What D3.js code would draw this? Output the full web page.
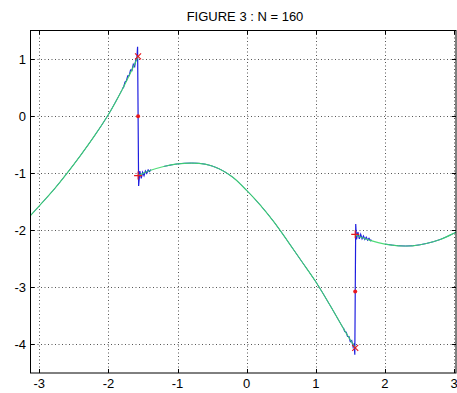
<!DOCTYPE html>
<html lang="en">
<head>
<meta charset="UTF-8">
<title>Figure 3</title>
<script src="https://d3js.org/d3.v7.min.js"></script>
<style>
  body { margin: 0; background: #fff; }
  svg { display: block; }
  text { font-family: "Liberation Sans", Arial, sans-serif; font-size: 13px; fill: #000; }
</style>
</head>
<body>
<svg id="chart" width="457" height="393"></svg>
<script>
// tick labels
const xTicks = [-3, -2, -1, 0, 1, 2, 3];
const yTicks = [-4, -3, -2, -1, 0, 1];

// exact function (green), three pieces split at -pi/2 and pi/2
const leftX  = [-3.1416, -3.0, -2.8, -2.6, -2.4, -2.2, -2.0, -1.8, -1.6, -1.5708];
const leftY  = [-1.76, -1.57, -1.30, -1.0, -0.68, -0.34, 0.03, 0.47, 0.97, 1.05];
const midX   = [-1.5708, -1.4, -1.2, -1.0, -0.8, -0.6, -0.4, -0.2, 0, 0.2, 0.4, 0.6, 0.8, 1.0, 1.2, 1.4, 1.5708];
const midY   = [-1.04, -0.95, -0.88, -0.835, -0.82, -0.84, -0.92, -1.07, -1.3, -1.56, -1.86, -2.2, -2.55, -2.9, -3.3, -3.72, -4.06];
const rightX = [1.5708, 1.8, 2.0, 2.2, 2.4, 2.6, 2.8, 3.0, 3.1416];
const rightY = [-2.08, -2.18, -2.24, -2.27, -2.27, -2.23, -2.16, -2.05, -1.96];

// partial sum (blue) around the jumps, ringing
const ringLX = [-1.80, -1.78, -1.76, -1.74, -1.72, -1.70, -1.68, -1.66, -1.64, -1.62, -1.60, -1.59, -1.578,
                -1.563, -1.545, -1.525, -1.505, -1.485, -1.465, -1.445, -1.425, -1.405, -1.385];
const ringLY = [0.48, 0.51, 0.60, 0.62, 0.71, 0.71, 0.81, 0.80, 0.91, 0.87, 1.02, 0.98, 1.22,
                -1.22, -0.96, -1.09, -0.98, -1.04, -0.96, -1.0, -0.94, -0.97, -0.935];
const ringRX = [1.40, 1.42, 1.44, 1.46, 1.48, 1.50, 1.52, 1.54, 1.555, 1.565,
                1.578, 1.59, 1.61, 1.63, 1.65, 1.67, 1.69, 1.71, 1.73, 1.75, 1.77, 1.79, 1.81];
const ringRY = [-3.71, -3.775, -3.785, -3.86, -3.86, -3.95, -3.93, -4.04, -3.98, -4.18,
                -1.89, -2.16, -2.03, -2.15, -2.07, -2.15, -2.10, -2.16, -2.12, -2.17, -2.14, -2.18, -2.17];

// red markers at the jumps: left limit (x), right limit (+), midpoint (dot)
const jumpX     = [-1.5708, 1.5708];
const leftLim   = [1.05, -4.06];
const rightLim  = [-1.04, -2.07];
const midVal    = [0.0, -3.07];

const svg = d3.select("#chart");
const box = { left: 30.5, right: 456, top: 30.5, bottom: 373 };

const x = d3.scaleLinear().domain([-3, 3]).range([39.3, 454]);
const y = d3.scaleLinear().domain([-4.5, 1.5]).range([373, 30.7]);

svg.append("defs").append("clipPath").attr("id", "clip")
  .append("rect")
  .attr("x", box.left).attr("y", box.top)
  .attr("width", box.right - box.left).attr("height", box.bottom - box.top);

// grid
const grid = svg.append("g")
  .attr("stroke", "#555").attr("stroke-width", 1).attr("stroke-dasharray", "1,2.5");
grid.selectAll("line.gx").data(xTicks).enter().append("line")
  .attr("x1", d => Math.round(x(d)) + 0.5).attr("x2", d => Math.round(x(d)) + 0.5)
  .attr("y1", box.top).attr("y2", box.bottom);
grid.selectAll("line.gy").data(yTicks).enter().append("line")
  .attr("y1", d => Math.round(y(d)) + 0.5).attr("y2", d => Math.round(y(d)) + 0.5)
  .attr("x1", box.left).attr("x2", box.right);

const pts = (xs, ys) => xs.map((v, i) => [v, ys[i]]);
const smooth = d3.line().x(d => x(d[0])).y(d => y(d[1])).curve(d3.curveCatmullRom);
const straight = d3.line().x(d => x(d[0])).y(d => y(d[1]));

const plot = svg.append("g").attr("clip-path", "url(#clip)");
const blue = "#1f1fe0";

// blue partial sum: exact pieces away from the jumps, ringing near them
const leftPts = pts(leftX, leftY), midPts = pts(midX, midY), rightPts = pts(rightX, rightY);
[leftPts.filter(d => d[0] <= -1.80),
 midPts.filter(d => d[0] > -1.385 && d[0] <= 1.40),
 rightPts.filter(d => d[0] > 1.81)].forEach(p => {
  plot.append("path")
    .attr("d", smooth(p))
    .attr("fill", "none").attr("stroke", blue).attr("stroke-width", 1);
});
plot.append("path")
  .attr("d", straight(pts(ringLX, ringLY)))
  .attr("fill", "none").attr("stroke", blue).attr("stroke-width", 1.2);
plot.append("path")
  .attr("d", straight(pts(ringRX, ringRY)))
  .attr("fill", "none").attr("stroke", blue).attr("stroke-width", 1.2);

// green exact function on top
[leftPts, midPts, rightPts].forEach(p => {
  plot.append("path")
    .attr("d", smooth(p))
    .attr("fill", "none").attr("stroke", "#3dd86a").attr("stroke-width", 1.2)
    .attr("stroke-opacity", 0.9);
});

// red markers
const marks = svg.append("g").attr("stroke", "#e8191e").attr("stroke-width", 1.1).attr("fill", "none");
jumpX.forEach((jx, i) => {
  const cx = x(jx);
  const ly = y(leftLim[i]);
  marks.append("path").attr("d", `M${cx - 3},${ly - 3}L${cx + 3},${ly + 3}M${cx - 3},${ly + 3}L${cx + 3},${ly - 3}`);
  const ry = y(rightLim[i]);
  marks.append("path").attr("d", `M${cx - 4},${ry}L${cx + 4},${ry}M${cx},${ry - 4}L${cx},${ry + 4}`);
  svg.append("circle").attr("cx", cx).attr("cy", y(midVal[i])).attr("r", 2).attr("fill", "#e8191e");
});

// frame and inward ticks
svg.append("rect")
  .attr("x", box.left).attr("y", box.top)
  .attr("width", box.right - box.left).attr("height", box.bottom - box.top)
  .attr("fill", "none").attr("stroke", "#000").attr("stroke-width", 1);

const ticks = svg.append("g").attr("stroke", "#000").attr("stroke-width", 1);
xTicks.forEach(t => {
  const px = Math.round(x(t)) + 0.5;
  ticks.append("line").attr("x1", px).attr("x2", px).attr("y1", box.bottom).attr("y2", box.bottom - 4);
  ticks.append("line").attr("x1", px).attr("x2", px).attr("y1", box.top).attr("y2", box.top + 4);
});
yTicks.forEach(t => {
  const py = Math.round(y(t)) + 0.5;
  ticks.append("line").attr("y1", py).attr("y2", py).attr("x1", box.left).attr("x2", box.left + 4);
  ticks.append("line").attr("y1", py).attr("y2", py).attr("x1", box.right).attr("x2", box.right - 4);
});

// tick labels
svg.selectAll("text.xl").data(xTicks).enter().append("text")
  .attr("x", d => x(d)).attr("y", 388)
  .attr("text-anchor", "middle")
  .text(d => d);
svg.selectAll("text.yl").data(yTicks).enter().append("text")
  .attr("x", 26).attr("y", d => y(d) + 4.5)
  .attr("text-anchor", "end")
  .text(d => d);

// title
svg.append("text")
  .attr("x", 245).attr("y", 20.5)
  .attr("text-anchor", "middle")
  .text("FIGURE 3 : N = 160");
</script>
</body>
</html>
